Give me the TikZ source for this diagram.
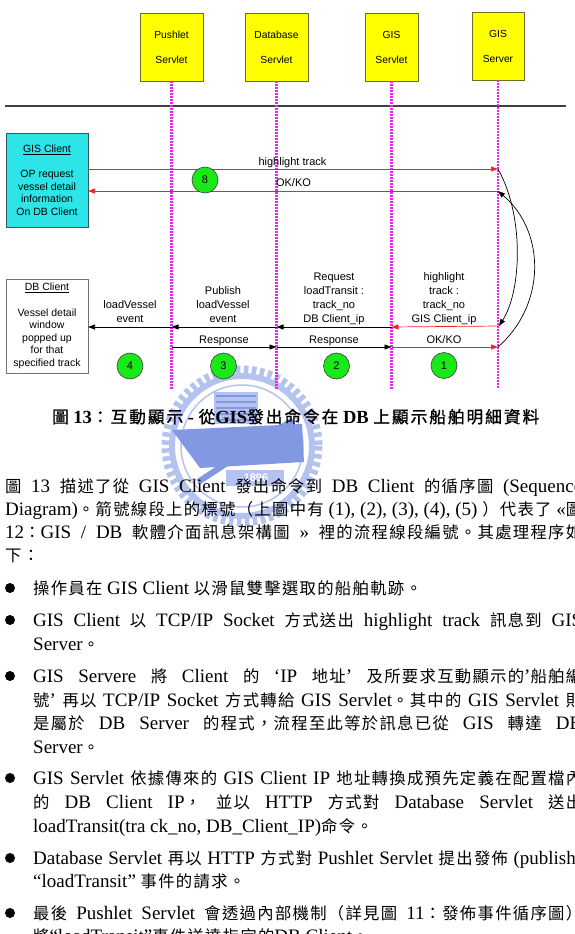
\documentclass[tikz,border=0pt]{standalone}
\usepackage{fontspec}
\setmainfont{Liberation Serif}
\newfontfamily\dsans{Liberation Sans}
\newfontfamily\cjk{Noto Sans CJK TC}[Scale=0.86,LetterSpace=8]
\newfontfamily\cjkcap{Noto Sans CJK TC}[Scale=0.9,LetterSpace=12,FakeBold=1.2]
\usetikzlibrary{arrows.meta}
\newcommand\zh[1]{{\cjk #1}}
\newcommand\zhc[1]{{\cjkcap\mdseries #1}}
\newlength\jwidth
\newcommand\jline[2]{\setlength\jwidth{#1}\makebox[\jwidth][s]{\spaceskip=4.75pt plus 2.4pt minus 1.2pt\relax #2}}
\definecolor{boxyellow}{RGB}{255,255,0}
\definecolor{boxedge}{RGB}{110,110,40}
\definecolor{lifemag}{RGB}{232,40,232}
\definecolor{gisc}{RGB}{45,228,232}
\definecolor{giscedge}{RGB}{50,90,95}
\definecolor{arrred}{RGB}{240,35,35}
\definecolor{circgreen}{RGB}{25,232,25}
\definecolor{wmlight}{RGB}{180,194,240}
\definecolor{wmdark}{RGB}{130,152,226}
\begin{document}
\begin{tikzpicture}[x=1pt,y=-1pt,
  actor/.style={draw=boxedge, fill=boxyellow, line width=0.8pt, align=center, inner sep=0,
    font=\dsans\fontsize{10.3}{25}\selectfont},
  life/.style={draw=lifemag, line width=2.2pt, dash pattern=on 1.8pt off 1.2pt},
  tipA/.style={-{Triangle[length=7pt,width=5pt]}},
  msgred/.style={draw=arrred, line width=0.7pt, tipA},
  msgblk/.style={draw=black, line width=0.7pt, tipA},
  lbl/.style={font=\dsans\fontsize{11}{14}\selectfont, align=center, inner sep=0, text depth=2.5pt, anchor=south},
  clientbox/.style={line width=0.8pt, minimum width=82pt, minimum height=94pt, align=center, inner sep=0,
    font=\dsans\fontsize{10.5}{12.6}\selectfont},
  numc/.style={circle, draw=black!75, fill=circgreen, minimum size=26pt, inner sep=0, line width=0.6pt,
    font=\dsans\fontsize{11}{12}\selectfont},
  para/.style={anchor=base west, inner sep=0, font=\fontsize{19}{22}\selectfont},
  bul/.style={fill=black}
]
\useasboundingbox (0,0) rectangle (574,934);
\fill[white] (0,0) rectangle (574,934);

% ---- watermark (faint) ----
\coordinate (wmc) at (242,446);
\draw[wmlight, line width=9pt, dash pattern=on 4.5pt off 3.5pt] (wmc) circle (76);
\draw[wmlight, line width=6pt] (wmc) circle (70);
\draw[wmlight, line width=1.5pt] (wmc) circle (61);
\fill[wmlight] (214,392) rectangle (258,424);
\foreach \yy in {396,402,408,414,420} \draw[wmdark, line width=1.6pt] (216,\yy) -- (256,\yy);
\fill[wmdark] (172,430) -- (302,424) -- (304,462) -- (200,468) -- cycle;
\draw[wmdark, line width=6pt] (198,482) -- (293,420);
\draw[wmdark, line width=2pt] (293,440) circle (5);
\fill[wmlight] (226,470) rectangle (284,486);
\node[font=\dsans\bfseries\fontsize{11}{11}\selectfont, text=white, inner sep=0] (wm1896) at (256,478) {1896};

% ---- actors ----
\node[actor, minimum width=63pt, minimum height=68pt] (push) at (171.5,47) {Pushlet\\Servlet};
\node[actor, minimum width=63pt, minimum height=68pt] (dbs) at (276.5,47) {Database\\Servlet};
\node[actor, minimum width=53pt, minimum height=68pt] (gsl) at (391.5,47) {GIS\\Servlet};
\node[actor, minimum width=52pt, minimum height=68pt] (gsv) at (498,46) {GIS\\Server};

\coordinate (lineL) at (5,106);
\coordinate (lineR) at (566,106);
\draw[line width=1.2pt, black!75] (lineL) -- (lineR);

\coordinate (pushEnd) at (171.5,389);
\coordinate (dbsEnd) at (276.5,389);
\coordinate (gslEnd) at (391.5,389);
\coordinate (gsvEnd) at (498,389);
\draw[life] (push.south) -- (pushEnd);
\draw[life] (dbs.south) -- (dbsEnd);
\draw[life] (gsl.south) -- (gslEnd);
\draw[life] (gsv.south) -- (gsvEnd);

% ---- clients ----
\node[clientbox, draw=giscedge, fill=gisc] (gisc) at (47,180)
  {\underline{GIS Client}\\[12.6pt]OP request\\vessel detail\\information\\On DB Client};
\node[clientbox, draw=black!55, fill=white] (dbc) at (47,326)
  {\underline{DB Client}\\[12.7pt]Vessel detail\\window\\popped up\\for that\\specified track};

% ---- message end points ----
\coordinate (gc1) at (88,169);  \coordinate (sv1) at (498,169);
\coordinate (gc2) at (88,191);  \coordinate (sv2) at (498,191);
\coordinate (dbA) at (88,327);  \coordinate (puA) at (171.5,327);
\coordinate (daA) at (276.5,327); \coordinate (glA) at (391.5,327);
\coordinate (svA) at (499,326);
\coordinate (puB) at (171.5,347); \coordinate (daB) at (276.5,347);
\coordinate (glB) at (391.5,347); \coordinate (svB) at (498,347);

\draw[msgred] (gc1) -- (sv1);
\draw[msgred] (sv2) -- (gc2);
\draw[msgred] (svA) -- (glA);
\draw[msgblk] (glA) -- (daA);
\draw[msgblk] (daA) -- (puA);
\draw[msgblk] (puA) -- (dbA);
\draw[msgblk] (puB) -- (daB);
\draw[msgblk] (daB) -- (glB);
\draw[msgred] (glB) -- (svB);
\draw[msgblk] (sv1) .. controls (524,215) and (522,290) .. (svA);
\draw[msgblk] (svB) .. controls (546,305) and (546,232) .. (sv2);

% ---- labels ----
\node[lbl] (lhl) at (292.5,168.5) {highlight track};
\node[lbl] (lok) at (293.5,189.2) {OK/KO};
\node[lbl] (lA1) at (444,325.5) {highlight\\track :\\track\_no\\GIS Client\_ip};
\node[lbl] (lA2) at (334,325.5) {Request\\loadTransit :\\track\_no\\DB Client\_ip};
\node[lbl] (lA3) at (223,325.5) {Publish\\loadVessel\\event};
\node[lbl] (lA4) at (130,325.5) {loadVessel\\event};
\node[lbl] (lB1) at (224,346) {Response};
\node[lbl] (lB2) at (334,346) {Response};
\node[lbl] (lB3) at (444,346) {OK/KO};

\node[numc] (n8) at (205,180) {8};
\node[numc] (n4) at (130,366) {4};
\node[numc] (n3) at (223.5,366) {3};
\node[numc] (n2) at (336.5,366) {2};
\node[numc] (n1) at (444,365.5) {1};

% ---- caption ----
\node[anchor=base west, inner sep=0, font=\bfseries\fontsize{18.5}{20}\selectfont] (cap) at (52,423)
  {\zhc{圖} 13\zhc{：互動顯示} - \zhc{從}GIS\zhc{發出命令在} DB \zhc{上顯示船舶明細資料}};

% ---- body text ----
\node[para] (p1) at (5,492.5) {\jline{577pt}{\zh{圖} 13 \zh{描述了從} GIS Client \zh{發出命令到} DB Client \zh{的循序圖} (Sequence}};
\node[para] (p2) at (5,515.5) {\jline{577pt}{Diagram)\zh{。箭號線段上的標號（上圖中有} (1), (2), (3), (4), (5) \zh{）代表了} «\zh{圖}}};
\node[para] (p3) at (5,538.5) {\jline{577pt}{12\zh{：}GIS / DB \zh{軟體介面訊息架構圖} » \zh{裡的流程線段編號。其處理程序如}}};
\node[para] (p4) at (5,561.5) {\zh{下：}};

\fill[bul] (10,588) circle (5);
\node[para] (b1a) at (33,594.5) {\zh{操作員在} GIS Client \zh{以滑鼠雙擊選取的船舶軌跡。}};

\fill[bul] (10,620) circle (5);
\node[para] (b2a) at (33,626.5) {\jline{549pt}{GIS Client \zh{以} TCP/IP Socket \zh{方式送出} highlight track \zh{訊息到} GIS}};
\node[para] (b2b) at (33,650.5) {Server\zh{。}};

\fill[bul] (10,676) circle (5);
\node[para] (b3a) at (33,682.5) {\jline{549pt}{GIS Servere \zh{將} Client \zh{的} ‘IP \zh{地址}’ \zh{及所要求互動顯示的}’\zh{船舶編}}};
\node[para] (b3b) at (33,706.5) {\jline{549pt}{\zh{號}’ \zh{再以} TCP/IP Socket \zh{方式轉給} GIS Servlet\zh{。其中的} GIS Servlet \zh{則}}};
\node[para] (b3c) at (33,729.5) {\jline{549pt}{\zh{是屬於} DB Server \zh{的程式，流程至此等於訊息已從} GIS \zh{轉達} DB}};
\node[para] (b3d) at (33,753.5) {Server\zh{。}};

\fill[bul] (10,778) circle (5);
\node[para] (b4a) at (33,784.5) {\jline{549pt}{GIS Servlet \zh{依據傳來的} GIS Client IP \zh{地址轉換成預先定義在配置檔內}}};
\node[para] (b4b) at (33,808.5) {\jline{549pt}{\zh{的} DB Client IP\zh{，} \zh{並以} HTTP \zh{方式對} Database Servlet \zh{送出}}};
\node[para] (b4c) at (33,832.5) {loadTransit(tra ck\_no, DB\_Client\_IP)\zh{命令。}};

\fill[bul] (10,858) circle (5);
\node[para] (b5a) at (33,864.5) {\jline{549pt}{Database Servlet \zh{再以} HTTP \zh{方式對} Pushlet Servlet \zh{提出發佈} (publish)}};
\node[para] (b5b) at (33,887.5) {“loadTransit” \zh{事件的請求。}};

\fill[bul] (10,913) circle (5);
\node[para] (b6a) at (33,919.5) {\jline{549pt}{\zh{最後} Pushlet Servlet \zh{會透過內部機制（詳見圖} 11\zh{：發佈事件循序圖）}}};
\node[para] (b6b) at (33,942.5) {\zh{將}“loadTransit”\zh{事件送達指定的}DB Client\zh{。}};
\end{tikzpicture}
\end{document}
